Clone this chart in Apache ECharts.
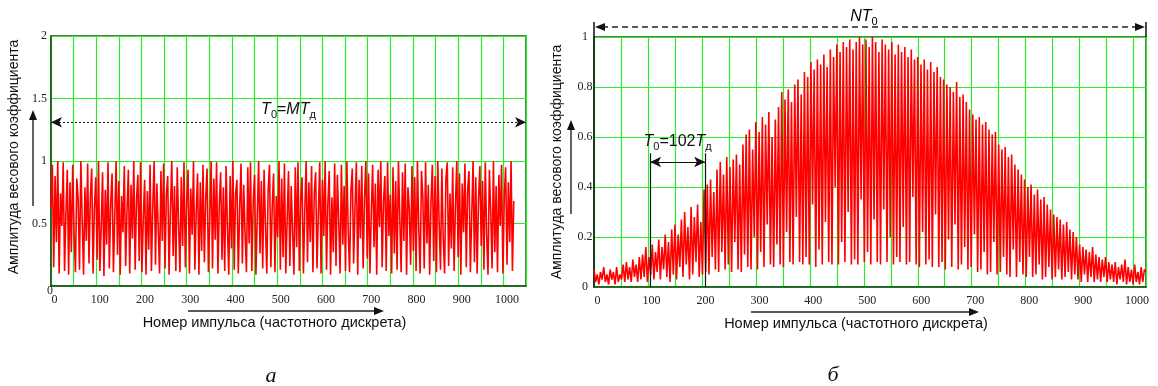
<!DOCTYPE html>
<html>
<head>
<meta charset="utf-8">
<script src="https://cdn.jsdelivr.net/npm/echarts@6/dist/echarts.min.js"></script>
<style>
html, body {margin: 0; padding: 0; background: #fff;}
#main {width: 1158px; height: 386px;}
</style>
</head>
<body>
<div id="main"></div>
<script>
// шаг по номеру импульса между считанными точками
const step = 3;

// а) случайные амплитуды
const ampA = [
  0.62, 0.97, 0.15, 0.88, 0.35, 1.00, 0.10, 0.74, 0.48, 0.99,
  0.12, 0.58, 0.93, 0.09, 0.83, 0.27, 0.97, 0.42, 0.11, 0.86,
  0.70, 0.13, 1.00, 0.52, 0.09, 0.79, 0.36, 0.98, 0.18, 0.71,
  0.94, 0.10, 0.63, 0.87, 0.21, 1.00, 0.12, 0.47, 0.91, 0.08,
  0.77, 0.33, 0.99, 0.14, 0.66, 0.90, 0.11, 0.57, 1.00, 0.25,
  0.84, 0.09, 0.72, 0.43, 0.96, 0.16, 0.60, 0.93, 0.10, 0.81,
  0.38, 1.00, 0.13, 0.69, 0.89, 0.20, 0.99, 0.11, 0.54, 0.85,
  0.09, 0.76, 0.29, 0.97, 0.12, 0.64, 1.00, 0.17, 0.82, 0.46,
  0.10, 0.92, 0.36, 0.98, 0.14, 0.73, 0.88, 0.09, 0.61, 1.00,
  0.24, 0.80, 0.12, 0.95, 0.50, 0.11, 0.87, 0.32, 0.99, 0.15,
  0.67, 0.93, 0.10, 0.78, 0.41, 1.00, 0.13, 0.59, 0.90, 0.09,
  0.83, 0.28, 0.97, 0.19, 0.70, 0.94, 0.11, 0.55, 1.00, 0.14,
  0.86, 0.37, 0.99, 0.10, 0.65, 0.91, 0.21, 0.79, 0.12, 0.96,
  0.47, 0.09, 0.88, 0.30, 1.00, 0.13, 0.74, 0.85, 0.10, 0.62,
  0.98, 0.18, 0.81, 0.42, 0.11, 0.95, 0.34, 0.99, 0.12, 0.68,
  0.89, 0.09, 0.57, 1.00, 0.26, 0.84, 0.14, 0.93, 0.49, 0.10,
  0.77, 0.97, 0.15, 0.63, 0.90, 0.11, 0.72, 0.39, 1.00, 0.13,
  0.86, 0.23, 0.98, 0.10, 0.53, 0.92, 0.16, 0.80, 0.44, 0.09,
  0.95, 0.31, 0.99, 0.12, 0.69, 0.87, 0.10, 0.60, 1.00, 0.19,
  0.83, 0.35, 0.96, 0.11, 0.75, 0.91, 0.14, 0.58, 0.99, 0.10,
  0.85, 0.40, 1.00, 0.13, 0.66, 0.92, 0.09, 0.71, 0.27, 0.98,
  0.16, 0.89, 0.52, 0.10, 0.97, 0.33, 0.80, 0.12, 1.00, 0.44,
  0.11, 0.76, 0.94, 0.18, 0.63, 0.99, 0.09, 0.85, 0.38, 0.96,
  0.14, 0.70, 1.00, 0.22, 0.90, 0.10, 0.58, 0.97, 0.31, 0.82,
  0.09, 0.93, 0.47, 1.00, 0.15, 0.68, 0.88, 0.12, 0.99, 0.40,
  0.73, 0.10, 0.95, 0.26, 0.84, 0.13, 1.00, 0.55, 0.11, 0.91,
  0.36, 0.98, 0.09, 0.79, 0.62, 0.17, 0.96, 0.28, 0.87, 0.12,
  1.00, 0.45, 0.10, 0.92, 0.71, 0.14, 0.99, 0.34, 0.81, 0.09,
  0.67, 0.97, 0.20, 0.88, 0.11, 1.00, 0.50, 0.13, 0.94, 0.39,
  0.10, 0.86, 0.99, 0.16, 0.74, 0.30, 0.95, 0.12, 0.64, 1.00,
  0.23, 0.90, 0.09, 0.82, 0.43, 0.98, 0.15, 0.77, 0.92, 0.11,
  0.56, 1.00, 0.19, 0.87, 0.10, 0.69, 0.96, 0.32, 0.84, 0.13,
  0.99, 0.41, 0.09, 0.93, 0.60, 0.14, 1.00, 0.27, 0.80, 0.11,
  0.89, 0.48, 0.97, 0.10, 0.72, 0.95, 0.17, 0.83, 0.35, 1.00,
  0.12, 0.68
];

// б) амплитуды с окном
const ampB = [
  0.07, 0.02, 0.05, 0.01, 0.06, 0.03, 0.08, 0.02, 0.05, 0.01,
  0.07, 0.03, 0.06, 0.01, 0.08, 0.02, 0.05, 0.03, 0.09, 0.02,
  0.10, 0.03, 0.08, 0.02, 0.11, 0.04, 0.09, 0.02, 0.12, 0.03,
  0.13, 0.04, 0.16, 0.02, 0.12, 0.05, 0.17, 0.03, 0.14, 0.06,
  0.19, 0.03, 0.16, 0.07, 0.21, 0.04, 0.18, 0.02, 0.23, 0.05,
  0.25, 0.03, 0.21, 0.08, 0.27, 0.04, 0.30, 0.09, 0.24, 0.03,
  0.32, 0.05, 0.28, 0.10, 0.33, 0.04, 0.26, 0.05, 0.39, 0.06,
  0.41, 0.05, 0.43, 0.12, 0.38, 0.07, 0.47, 0.06, 0.50, 0.14,
  0.45, 0.07, 0.52, 0.09, 0.48, 0.06, 0.51, 0.18, 0.53, 0.07,
  0.49, 0.06, 0.57, 0.13, 0.61, 0.08, 0.63, 0.07, 0.55, 0.20,
  0.66, 0.07, 0.62, 0.14, 0.68, 0.08, 0.65, 0.25, 0.70, 0.09,
  0.60, 0.08, 0.67, 0.17, 0.72, 0.09, 0.78, 0.08, 0.75, 0.22,
  0.79, 0.10, 0.74, 0.09, 0.81, 0.28, 0.83, 0.10, 0.77, 0.09,
  0.86, 0.12, 0.84, 0.09, 0.90, 0.33, 0.87, 0.08, 0.91, 0.15,
  0.89, 0.09, 0.93, 0.26, 0.88, 0.10, 0.95, 0.09, 0.92, 0.40,
  0.97, 0.09, 0.94, 0.18, 0.98, 0.10, 0.96, 0.30, 0.99, 0.09,
  0.95, 0.11, 0.98, 0.09, 1.00, 0.35, 0.97, 0.10, 0.99, 0.14,
  0.96, 0.09, 1.00, 0.27, 0.98, 0.10, 0.94, 0.09, 0.99, 0.31,
  0.97, 0.10, 0.95, 0.20, 0.98, 0.09, 0.93, 0.12, 0.97, 0.10,
  0.94, 0.24, 0.96, 0.09, 0.92, 0.10, 0.95, 0.36, 0.91, 0.09,
  0.92, 0.08, 0.89, 0.22, 0.91, 0.09, 0.87, 0.11, 0.90, 0.08,
  0.86, 0.29, 0.88, 0.08, 0.84, 0.10, 0.83, 0.07, 0.81, 0.19,
  0.80, 0.08, 0.78, 0.25, 0.82, 0.07, 0.76, 0.09, 0.77, 0.16,
  0.74, 0.07, 0.71, 0.08, 0.69, 0.21, 0.67, 0.06, 0.68, 0.07,
  0.65, 0.14, 0.66, 0.05, 0.63, 0.06, 0.61, 0.18, 0.62, 0.05,
  0.57, 0.06, 0.55, 0.12, 0.56, 0.05, 0.52, 0.04, 0.53, 0.15,
  0.49, 0.04, 0.47, 0.10, 0.45, 0.05, 0.43, 0.04, 0.40, 0.12,
  0.41, 0.04, 0.37, 0.05, 0.39, 0.09, 0.35, 0.03, 0.36, 0.04,
  0.33, 0.08, 0.31, 0.03, 0.29, 0.04, 0.28, 0.07, 0.27, 0.03,
  0.25, 0.04, 0.26, 0.06, 0.23, 0.03, 0.22, 0.05, 0.20, 0.03,
  0.17, 0.02, 0.16, 0.05, 0.15, 0.02, 0.14, 0.04, 0.16, 0.02,
  0.13, 0.03, 0.12, 0.02, 0.11, 0.04, 0.12, 0.02, 0.10, 0.03,
  0.09, 0.02, 0.10, 0.01, 0.08, 0.03, 0.09, 0.02, 0.11, 0.01,
  0.08, 0.02, 0.07, 0.01, 0.09, 0.02, 0.06, 0.01, 0.08, 0.02,
  0.07, 0.06
];

// пределы осей
const xMaxA = 1050, xMaxB = 1023;
const yMaxA = 2, yMaxB = 1;
const T0line = [104, 206];   // границы периода T0 на графике б
const T0levelA = 1.31;       // уровень стрелки T0=MTд
const T0levelB = 0.5;

const yTitle = 'Амплитуда весового коэффициента';
const xTitle = 'Номер импульса (частотного дискрета)';

let dataA = ampA.map((v, k) => [k * step, v]);
let dataB = ampB.map((v, k) => [k * step, v]);

let serif = 'Liberation Serif';
let sans = 'Liberation Sans';
let green = '#2bee2b';
let frame = '#1d4f1d';

let sub = {
    t: {fontFamily: sans, fontStyle: 'italic', fontSize: 16, color: '#111'},
    n: {fontFamily: sans, fontSize: 16, color: '#111'},
    s: {fontFamily: sans, fontSize: 11, color: '#111', padding: [10, 0, 0, 0]}
};

let xAxisCommon = (gi, max) => ({
    gridIndex: gi,
    type: 'value',
    min: 0,
    max: max,
    interval: 50,
    axisLine: {show: true, lineStyle: {color: frame, width: 1.5}},
    axisTick: {show: false},
    splitLine: {show: true, lineStyle: {color: green, width: 1.2}},
    axisLabel: {
        fontFamily: serif, fontSize: 12, color: '#222', margin: 8,
        padding: [0, 0, 0, 7],
        formatter: v => (v % 100 === 0 && v <= 1000) ? String(v) : ''
    },
    name: xTitle,
    nameLocation: 'middle',
    nameGap: 29,
    nameTextStyle: {fontFamily: sans, fontSize: 14.5, color: '#111', padding: [0, 28, 0, 0]}
});

let lineCommon = {color: '#ff0000', width: 1.6, join: 'bevel'};

let option = {
    backgroundColor: '#fff',
    animation: false,
    grid: [
        {left: 51, top: 36, width: 475, height: 250, show: true, borderColor: frame, borderWidth: 1.5},
        {left: 594, top: 37, width: 552, height: 250, show: true, borderColor: frame, borderWidth: 1.5}
    ],
    xAxis: [xAxisCommon(0, xMaxA), xAxisCommon(1, xMaxB)],
    yAxis: [
        {
            gridIndex: 0, type: 'value', min: 0, max: yMaxA, interval: 0.5,
            axisLine: {show: true, lineStyle: {color: frame, width: 1.5}},
            axisTick: {show: false},
            splitLine: {lineStyle: {color: green, width: 1.2}},
            axisLabel: {
                fontFamily: serif, fontSize: 12, color: '#222', margin: 4,
                formatter: v => v === 0 ? '{z|0}' : String(v),
                rich: {z: {fontFamily: serif, fontSize: 12, color: '#222', padding: [10, -6, 0, 0]}}
            },
            name: yTitle, nameLocation: 'middle', nameGap: 30,
            nameTextStyle: {fontFamily: sans, fontSize: 14, color: '#111', padding: [0, 0, 0, 8]}
        },
        {
            gridIndex: 1, type: 'value', min: 0, max: yMaxB, interval: 0.2,
            axisLine: {show: true, lineStyle: {color: '#111', width: 1.5}},
            axisTick: {show: false},
            splitLine: {lineStyle: {color: green, width: 1.2}},
            axisLabel: {fontFamily: serif, fontSize: 12, color: '#222', margin: 9, align: 'center'},
            name: yTitle, nameLocation: 'middle', nameGap: 30,
            nameTextStyle: {fontFamily: sans, fontSize: 14, color: '#111'}
        }
    ],
    series: [
        {
            type: 'line', xAxisIndex: 0, yAxisIndex: 0, data: dataA,
            showSymbol: false, lineStyle: lineCommon, z: 3,
            markLine: {
                silent: true, symbol: ['none', 'none'], animation: false,
                lineStyle: {color: '#111', type: [2, 2], width: 1},
                label: {show: false},
                data: [[
                    {coord: [0, T0levelA], symbol: 'arrow', symbolSize: [8, 11],
                        label: {show: true, position: 'middle', distance: 2,
                            formatter: '{t|T}{s|0}{n|=}{t|MT}{s|д}', rich: sub}},
                    {coord: [xMaxA, T0levelA], symbol: 'arrow', symbolSize: [8, 11]}
                ]]
            }
        },
        {
            type: 'line', xAxisIndex: 1, yAxisIndex: 1, data: dataB,
            showSymbol: false, lineStyle: lineCommon, z: 3,
            markLine: {
                silent: true, symbol: ['none', 'none'], animation: false,
                lineStyle: {color: '#111', type: 'solid', width: 1.2},
                label: {show: false},
                data: [
                    [{coord: [T0line[0], 0]}, {coord: [T0line[0], 0.535]}],
                    [{coord: [T0line[1], 0]}, {coord: [T0line[1], 0.535]}],
                    [
                        {coord: [T0line[0], T0levelB], symbol: 'arrow', symbolSize: [8, 11],
                            label: {show: true, position: 'middle', distance: 10,
                                formatter: '{t|T}{s|0}{n|=102}{t|T}{s|д}', rich: sub}},
                        {coord: [T0line[1], T0levelB], symbol: 'arrow', symbolSize: [8, 11]}
                    ]
                ]
            }
        }
    ]
};

let chart = echarts.init(document.getElementById('main'), null, {renderer: 'canvas'});
chart.setOption(option);

// подписи и стрелки вне области построения
let arrowLine = (x1, y1, x2, y2, dash) => ({
    type: 'line', silent: true,
    shape: {x1: x1, y1: y1, x2: x2, y2: y2},
    style: {stroke: '#222', lineWidth: 1.4, lineDash: dash || null}
});
let head = (x, y, dir) => {
    // dir: 'u','r','l'
    let p;
    if (dir === 'u') p = [[x, y], [x - 4, y + 10], [x + 4, y + 10]];
    else if (dir === 'r') p = [[x, y], [x - 10, y - 4], [x - 10, y + 4]];
    else p = [[x, y], [x + 10, y - 4], [x + 10, y + 4]];
    return {type: 'polygon', silent: true, shape: {points: p}, style: {fill: '#111'}};
};

let pL = chart.convertToPixel({gridIndex: 1}, [0, yMaxB]);
let pR = chart.convertToPixel({gridIndex: 1}, [xMaxB, yMaxB]);
let yNT = pL[1] - 10;

chart.setOption({
    graphic: [
        arrowLine(33, 206, 33, 118), head(33, 110, 'u'),
        arrowLine(571, 214, 571, 128), head(571, 120, 'u'),
        arrowLine(188, 311, 375, 311), head(384, 311, 'r'),
        arrowLine(751, 312, 970, 312), head(979, 312, 'r'),
        arrowLine(pL[0] + 8, yNT, pR[0] - 8, yNT, [6, 4]),
        head(pL[0] + 1, yNT, 'l'), head(pR[0] - 1, yNT, 'r'),
        {type: 'line', silent: true, shape: {x1: pL[0], y1: yNT - 5, x2: pL[0], y2: pL[1]}, style: {stroke: '#111', lineWidth: 1.5}},
        {type: 'line', silent: true, shape: {x1: pR[0], y1: yNT - 5, x2: pR[0], y2: pR[1]}, style: {stroke: '#111', lineWidth: 1.5}},
        {type: 'text', silent: true, x: (pL[0] + pR[0]) / 2 - 6, y: yNT - 10,
            style: {text: '{t|NT}{s|0}', rich: sub, align: 'center', verticalAlign: 'middle'}},
        {type: 'text', silent: true, x: 271, y: 376,
            style: {text: 'а', fontFamily: serif, fontStyle: 'italic', fontSize: 22, fill: '#111', align: 'center', verticalAlign: 'middle'}},
        {type: 'text', silent: true, x: 833, y: 375,
            style: {text: 'б', fontFamily: serif, fontStyle: 'italic', fontSize: 22, fill: '#111', align: 'center', verticalAlign: 'middle'}}
    ]
});
</script>
</body>
</html>
